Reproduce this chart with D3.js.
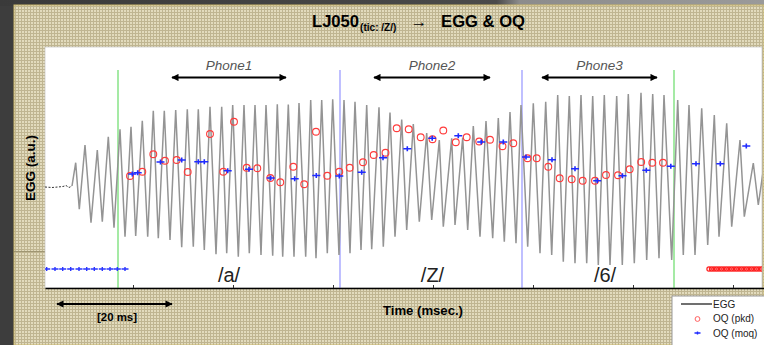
<!DOCTYPE html>
<html>
<head>
<meta charset="utf-8">
<script src="https://cdn.jsdelivr.net/npm/d3@7"></script>
<style>
  html, body { margin: 0; padding: 0; background: #3d3d3d; }
  svg { display: block; font-family: "Liberation Sans", Arial, sans-serif; }
</style>
</head>
<body>
<div id="chart"></div>
<script>
// time in ms (0 = first axis tick), EGG amplitude in a.u.
var preVoicingT = [-17.6, -16.2, -15.0, -14.0, -13.4, -12.8, -12.2];
var preVoicingA = [-0.115, -0.12, -0.115, -0.11, -0.10, -0.12, -0.105];

// EGG peaks and troughs, alternating
var eggT = [-12.2, -11.46, -10.74, -9.6, -8.4, -7.14, -6.14, -4.94, -3.8, -2.6, -1.6, -0.4, 0.54, 1.86, 2.94,
  4.06, 5.06, 6.26, 7.4, 8.54, 9.74, 10.86, 12.06, 13.06, 14.26, 15.4, 16.6, 17.74, 18.74, 19.94, 21.06,
  22.2, 23.26, 24.4, 25.6, 26.6, 27.94, 28.86, 29.94, 31.06, 32.2, 33.2, 34.54, 35.54, 36.6, 37.74, 38.86,
  39.94, 41.2, 42.2, 43.4, 44.4, 45.6, 46.74, 47.74, 49.2, 50.06, 51.4, 52.4, 53.74, 54.74, 56.06, 57.26,
  58.74, 59.74, 61.26, 62.06, 63.74, 64.4, 65.94, 66.94, 68.06, 69.4, 70.6, 71.94, 73.06, 74.26, 75.4, 76.6,
  77.6, 78.94, 80.06, 81.4, 82.54, 83.74, 84.94, 86.06, 87.26, 88.4, 89.6, 90.74, 91.94, 93.06, 94.26, 95.4,
  96.74, 97.86, 99.06, 100.26, 101.6, 102.74, 103.94, 105.2, 106.2, 107.74, 108.94, 110.06, 111.2, 112.4,
  113.74, 114.94, 116.26, 117.2, 118.74, 119.74, 121.4, 122.26, 124.06, 125.06, 126.0];
var eggA = [-0.105, 0.128, -0.338, 0.305, -0.472, 0.255, -0.462, 0.388, -0.522, 0.462, -0.612, 0.488, -0.605, 0.548, -0.612,
  0.648, -0.628, 0.648, -0.645, 0.655, -0.718, 0.662, -0.712, 0.662, -0.745, 0.688, -0.788, 0.688, -0.778, 0.705, -0.812,
  0.705, -0.778, 0.705, -0.795, 0.705, -0.802, 0.712, -0.812, 0.71, -0.812, 0.725, -0.812, 0.755, -0.828, 0.755, -0.778,
  0.762, -0.795, 0.755, -0.778, 0.738, -0.745, 0.705, -0.738, 0.682, -0.712, 0.63, -0.612, 0.56, -0.545, 0.515, -0.462,
  0.425, -0.445, 0.355, -0.512, 0.372, -0.495, 0.38, -0.545, 0.495, -0.612, 0.545, -0.628, 0.575, -0.662, 0.635, -0.678,
  0.705, -0.712, 0.722, -0.778, 0.738, -0.795, 0.805, -0.862, 0.795, -0.878, 0.805, -0.878, 0.795, -0.895, 0.805, -0.895,
  0.795, -0.895, 0.815, -0.878, 0.828, -0.845, 0.815, -0.828, 0.805, -0.845, 0.755, -0.795, 0.705, -0.795,
  0.672, -0.695, 0.605, -0.612, 0.522, -0.512, 0.355, -0.412, 0.125, -0.295, 0.035];

// open quotient, peak detection
var pkdT = [-0.6, 1.86, 4.06, 6.4, 8.74, 10.94, 15.4, 18.06, 20.2, 22.74, 24.86, 27.46, 29.46, 32.06, 34.24, 36.6,
  38.86, 41.26, 43.34, 46.0, 48.14, 50.5, 52.74, 55.14, 57.54, 59.9, 62.06, 64.56, 66.74, 69.24, 71.4, 73.9, 76.06,
  78.9, 80.74, 83.06, 85.34, 87.74, 89.94, 92.4, 94.6, 97.0, 99.34, 101.64, 103.86, 106.0];
var pkdOQ = [0.372, 0.389, 0.459, 0.433, 0.436, 0.388, 0.54, 0.389, 0.589, 0.405, 0.403, 0.364, 0.347, 0.409, 0.339, 0.549,
  0.373, 0.389, 0.405, 0.427, 0.456, 0.465, 0.563, 0.559, 0.527, 0.519, 0.554, 0.507, 0.527, 0.51, 0.517, 0.491, 0.503,
  0.443, 0.443, 0.409, 0.363, 0.359, 0.353, 0.353, 0.376, 0.375, 0.399, 0.428, 0.425, 0.425];

// open quotient, moq
var moqT = [-0.14, 0.94, 5.5, 9.74, 13.06, 14.26, 18.94, 23.2, 27.54, 32.34, 36.66, 41.26, 45.74, 50.0, 54.86, 59.84,
  65.06, 69.64, 74.06, 78.6, 83.8, 88.4, 92.84, 97.9, 102.66, 107.56, 112.6, 117.46, 122.66];
var moqOQ = [0.38, 0.385, 0.428, 0.436, 0.429, 0.429, 0.393, 0.399, 0.364, 0.361, 0.374, 0.372, 0.387, 0.445, 0.481, 0.523,
  0.533, 0.508, 0.508, 0.448, 0.437, 0.401, 0.353, 0.373, 0.395, 0.411, 0.421, 0.421, 0.492];

// unvoiced frames (OQ = 0)
var moqZeroT = [-17.26, -15.6, -14.06, -12.46, -10.8, -9.26, -7.74, -6.14, -4.6, -3.14, -1.6];
var pkdZeroT = [115.2, 115.7, 116.2, 116.7, 117.2, 117.7, 118.2, 118.7, 119.2, 119.7, 120.2, 120.7, 121.2, 121.7,
  122.2, 122.7, 123.2, 123.7, 124.2, 124.7, 125.2, 125.7];

var tickTimes = [0, 20, 40, 60, 80, 100, 120];
var boundaryGreen = [-3.0, 108.2];
var boundaryBlue = [41.4, 77.8];
var phoneNames = ["Phone1", "Phone2", "Phone3"];
var phoneStart = [7.8, 48.2, 81.8];
var phoneEnd = [30.6, 71.4, 104.8];
var phonemeLabels = ["/a/", "/Z/", "/6/"];
var phonemeT = [19.2, 59.9, 94.4];
var scaleBarT = [-15.2, 7.8];
var legendLabels = ["EGG", "OQ (pkd)", "OQ (moq)"];

var width = 764, height = 345;
var plot = {left: 45, right: 762, top: 47, bottom: 288};

var x = d3.scaleLinear().domain([-17.6, 126.2]).range([45, 764]);
var y = d3.scaleLinear().domain([-1.125, 1.285]).range([plot.bottom, plot.top]);
var yOQ = d3.scaleLinear().domain([0, 1]).range([269, 19]);

var svg = d3.select("#chart").append("svg")
    .attr("width", width)
    .attr("height", height);

var defs = svg.append("defs");

var pat = defs.append("pattern")
    .attr("id", "beige")
    .attr("width", 3).attr("height", 3)
    .attr("patternUnits", "userSpaceOnUse");
pat.append("rect").attr("width", 3).attr("height", 3).attr("fill", "#e2dbbd");
pat.append("rect").attr("width", 3).attr("height", 1).attr("fill", "#bfb591");
pat.append("rect").attr("width", 1).attr("height", 3).attr("fill", "#bfb591");

var grad = defs.append("linearGradient").attr("id", "topgrad");
grad.append("stop").attr("offset", "0%").attr("stop-color", "#3a3a3a");
grad.append("stop").attr("offset", "65%").attr("stop-color", "#4a4a4a");
grad.append("stop").attr("offset", "68%").attr("stop-color", "#8c8c8c");
grad.append("stop").attr("offset", "100%").attr("stop-color", "#9a9a9a");

defs.append("clipPath").attr("id", "plotclip")
  .append("rect")
    .attr("x", plot.left).attr("y", plot.top)
    .attr("width", plot.right - plot.left).attr("height", plot.bottom - plot.top);

defs.append("marker")
    .attr("id", "arrow")
    .attr("viewBox", "0 0 10 10")
    .attr("refX", 9).attr("refY", 5)
    .attr("markerWidth", 5).attr("markerHeight", 4)
    .attr("markerUnits", "strokeWidth")
    .attr("orient", "auto-start-reverse")
  .append("path")
    .attr("d", "M0,0L10,5L0,10Z")
    .attr("fill", "#000");

// frame
svg.append("rect").attr("width", width).attr("height", height).attr("fill", "#3d3d3d");
svg.append("rect").attr("width", width).attr("height", 6).attr("fill", "url(#topgrad)");
svg.append("rect")
    .attr("x", 14).attr("y", 5)
    .attr("width", width - 14).attr("height", height - 5)
    .attr("fill", "url(#beige)")
    .attr("stroke", "#c9b66a").attr("stroke-width", 1);
svg.append("line")
    .attr("x1", 14).attr("x2", plot.left).attr("y1", 251.5).attr("y2", 251.5)
    .attr("stroke", "#9f9672").attr("stroke-width", 1);

// plot area
svg.append("rect")
    .attr("x", plot.left).attr("y", plot.top)
    .attr("width", plot.right - plot.left).attr("height", plot.bottom - plot.top)
    .attr("fill", "#fff")
    .attr("stroke", "#b8b8b8").attr("stroke-width", 0.6);

var g = svg.append("g").attr("clip-path", "url(#plotclip)");

// segment boundaries
g.selectAll(".vgreen").data(boundaryGreen).enter().append("line")
    .attr("class", "vgreen")
    .attr("x1", d => x(d)).attr("x2", d => x(d))
    .attr("y1", 70).attr("y2", plot.bottom)
    .attr("stroke", "#8fe58f").attr("stroke-width", 1.6);
g.selectAll(".vblue").data(boundaryBlue).enter().append("line")
    .attr("class", "vblue")
    .attr("x1", d => x(d)).attr("x2", d => x(d))
    .attr("y1", 70).attr("y2", plot.bottom)
    .attr("stroke", "#b0b0ff").attr("stroke-width", 1.6);

// EGG
var eggLine = d3.line()
    .x(d => x(d[0]))
    .y(d => y(d[1]));

g.append("path")
    .datum(d3.zip(preVoicingT, preVoicingA))
    .attr("d", eggLine)
    .attr("fill", "none")
    .attr("stroke", "#333")
    .attr("stroke-width", 1)
    .attr("stroke-dasharray", "2,1.5");

g.append("path")
    .datum(d3.zip(eggT, eggA))
    .attr("d", eggLine)
    .attr("fill", "none")
    .attr("stroke", "#949494")
    .attr("stroke-width", 1.5)
    .attr("stroke-linejoin", "miter");

// OQ markers
var plusPath = "M-4,0H4M0,-2.5V2.5";

g.selectAll(".pkd").data(d3.zip(pkdT, pkdOQ)).enter().append("circle")
    .attr("class", "pkd")
    .attr("cx", d => x(d[0])).attr("cy", d => yOQ(d[1]))
    .attr("r", 3.4)
    .attr("fill", "none")
    .attr("stroke", "#ff3b3b")
    .attr("stroke-width", 1.1);

g.selectAll(".moq").data(d3.zip(moqT, moqOQ)).enter().append("path")
    .attr("class", "moq")
    .attr("transform", d => "translate(" + x(d[0]) + "," + yOQ(d[1]) + ")")
    .attr("d", plusPath)
    .attr("stroke", "#1f2bff")
    .attr("stroke-width", 1.6);

g.selectAll(".moq0").data(moqZeroT).enter().append("path")
    .attr("class", "moq0")
    .attr("transform", d => "translate(" + x(d) + "," + yOQ(0) + ")")
    .attr("d", "M-3.5,0H3.5M0,-2V2")
    .attr("stroke", "#2a35ff")
    .attr("stroke-width", 1.4);

g.selectAll(".pkd0").data(pkdZeroT).enter().append("circle")
    .attr("class", "pkd0")
    .attr("cx", d => x(d)).attr("cy", yOQ(0))
    .attr("r", 2.1)
    .attr("fill", "none")
    .attr("stroke", "#ff2020")
    .attr("stroke-width", 1.2);

// phone spans
phoneNames.forEach(function(name, i) {
  svg.append("line")
      .attr("x1", x(phoneStart[i])).attr("x2", x(phoneEnd[i]))
      .attr("y1", 77.5).attr("y2", 77.5)
      .attr("stroke", "#000").attr("stroke-width", 1.8)
      .attr("marker-start", "url(#arrow)")
      .attr("marker-end", "url(#arrow)");
  svg.append("text")
      .attr("x", x((phoneStart[i] + phoneEnd[i]) / 2))
      .attr("y", 70)
      .attr("text-anchor", "middle")
      .attr("font-size", 13.5)
      .attr("font-style", "italic")
      .attr("fill", "#555")
      .text(name);
});

svg.selectAll(".phoneme").data(phonemeLabels).enter().append("text")
    .attr("class", "phoneme")
    .attr("x", (d, i) => x(phonemeT[i]))
    .attr("y", 282)
    .attr("text-anchor", "middle")
    .attr("font-size", 20)
    .attr("fill", "#222")
    .text(d => d);

// time axis, ticks pointing in
var xAxis = d3.axisBottom(x)
    .tickValues(tickTimes)
    .tickSize(-3)
    .tickSizeOuter(0)
    .tickFormat("");
var axisG = svg.append("g")
    .attr("transform", "translate(0," + plot.bottom + ")")
    .call(xAxis);
axisG.select(".domain").attr("stroke", "#000").attr("stroke-width", 1.3);
axisG.selectAll(".tick line").attr("stroke", "#333");

// title, one text with a subscript
var title = svg.append("text")
    .attr("x", 312).attr("y", 27)
    .attr("font-size", 16.5).attr("font-weight", "bold")
    .attr("textLength", 213).attr("lengthAdjust", "spacingAndGlyphs");
title.append("tspan").text("LJ050");
title.append("tspan").attr("font-size", 10).attr("dy", 4).attr("dx", 1).text("(tic: /Z/)");
title.append("tspan").attr("dy", -4).attr("dx", 14).text("→");
title.append("tspan").attr("dx", 14).text("EGG & OQ");

svg.append("text")
    .attr("transform", "translate(34.5,168) rotate(-90)")
    .attr("text-anchor", "middle")
    .attr("font-size", 12.5).attr("font-weight", "bold")
    .attr("textLength", 66).attr("lengthAdjust", "spacingAndGlyphs")
    .text("EGG (a.u.)");

svg.append("text")
    .attr("x", 383).attr("y", 314.5)
    .attr("font-size", 13).attr("font-weight", "bold")
    .attr("textLength", 80).attr("lengthAdjust", "spacingAndGlyphs")
    .text("Time (msec.)");

// 20 ms scale bar
svg.append("line")
    .attr("x1", x(scaleBarT[0])).attr("x2", x(scaleBarT[1]))
    .attr("y1", 304).attr("y2", 304)
    .attr("stroke", "#000").attr("stroke-width", 1.8)
    .attr("marker-start", "url(#arrow)")
    .attr("marker-end", "url(#arrow)");
svg.append("text")
    .attr("x", 97).attr("y", 320.5)
    .attr("font-size", 11).attr("font-weight", "bold")
    .attr("textLength", 40).attr("lengthAdjust", "spacingAndGlyphs")
    .text("[20 ms]");

// legend
var leg = svg.append("g").attr("transform", "translate(672,296)");
leg.append("rect")
    .attr("width", 100).attr("height", 60)
    .attr("fill", "#fff")
    .attr("stroke", "#9a9a9a").attr("stroke-width", 1);
leg.append("line")
    .attr("x1", 9).attr("x2", 40).attr("y1", 8).attr("y2", 8)
    .attr("stroke", "#222").attr("stroke-width", 1.3);
leg.append("circle")
    .attr("cx", 25.5).attr("cy", 23).attr("r", 2.4)
    .attr("fill", "none").attr("stroke", "#ff6060").attr("stroke-width", 1);
leg.append("path")
    .attr("transform", "translate(25.5,37)")
    .attr("d", "M-3,0H3M0,-1.5V1.5")
    .attr("stroke", "#1f2bff").attr("stroke-width", 1.4);
leg.selectAll(".legtext").data(legendLabels).enter().append("text")
    .attr("class", "legtext")
    .attr("x", 41)
    .attr("y", (d, i) => 11.5 + i * 14.5)
    .attr("font-size", 10)
    .attr("fill", "#222")
    .text(d => d);
</script>
</body>
</html>
